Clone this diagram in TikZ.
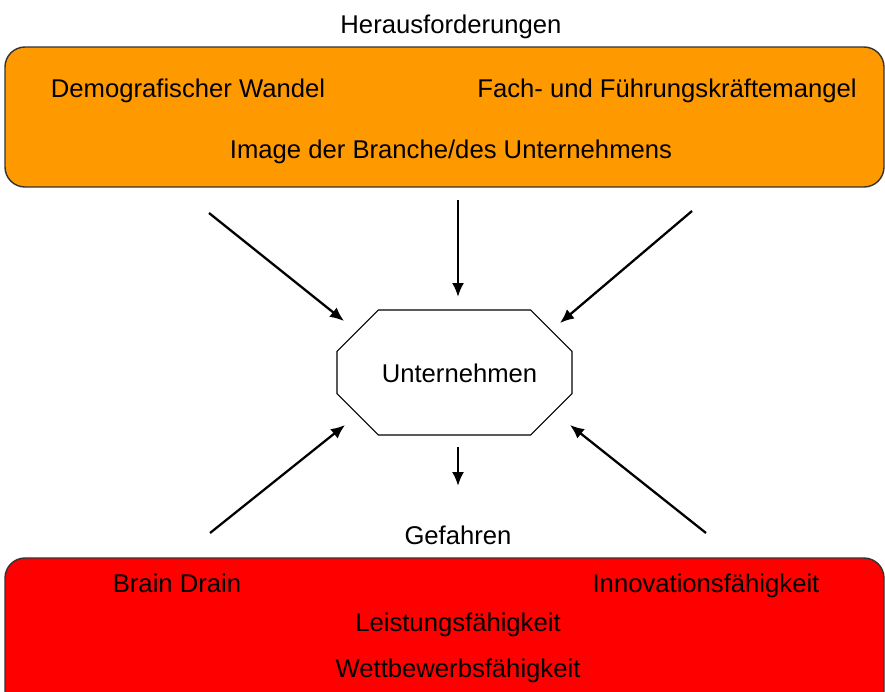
\documentclass[tikz,border=0pt]{standalone}
\usepackage{fontspec}
\setmainfont{Liberation Sans}
\usetikzlibrary{arrows.meta,shapes.misc}
\definecolor{orangebox}{RGB}{255,153,0}
\definecolor{redbox}{RGB}{255,0,0}
\begin{document}
\begin{tikzpicture} [font=\fontsize{14.6}{17}\selectfont,
  every node/.style={text height=12.5pt,text depth=1.5pt},
  box/.style={draw=black!80,line width=0.8pt,rounded corners=0.4cm},
  pfeil/.style={-{Latex[length=2.8mm,width=2.4mm]},line width=1.3pt}]
\clip (0,0) rectangle (17.7,-13.82) ;
% Herausforderungen
\node (her) at (9.02,-0.48) {Herausforderungen} ;
\draw[box,fill=orangebox] (0.1,-0.94) rectangle (17.68,-3.74) ;
\node (demo) at (3.76,-1.76) {Demografischer Wandel} ;
\node (fach) at (13.34,-1.76) {Fach- und Führungskräftemangel} ;
\node (image) at (9.02,-2.98) {Image der Branche/des Unternehmens} ;
% Unternehmen
\node [draw,line width=0.6pt,chamfered rectangle,chamfered rectangle xsep=0.58cm,
  chamfered rectangle ysep=0.58cm,minimum width=4.7cm,minimum height=2.5cm,
  inner sep=0pt] (firm) at (9.09,-7.45) {\hspace{0.2cm}Unternehmen} ;
\coordinate (o1) at (4.18,-4.26) ; \coordinate (o1e) at (6.88,-6.42) ;
\coordinate (o2) at (9.16,-4.0) ;  \coordinate (o2e) at (9.16,-5.94) ;
\coordinate (o3) at (13.84,-4.22) ; \coordinate (o3e) at (11.2,-6.46) ;
\coordinate (u1) at (4.2,-10.66) ; \coordinate (u1e) at (6.9,-8.5) ;
\coordinate (u3) at (14.12,-10.66) ; \coordinate (u3e) at (11.4,-8.5) ;
\coordinate (m1) at (9.16,-8.94) ; \coordinate (m1e) at (9.16,-9.72) ;
\draw[pfeil] (o1) -- (o1e) ;
\draw[pfeil] (o2) -- (o2e) ;
\draw[pfeil] (o3) -- (o3e) ;
\draw[pfeil] (u1) -- (u1e) ;
\draw[pfeil] (u3) -- (u3e) ;
\draw[pfeil] (m1) -- (m1e) ;
% Gefahren
\node (gef) at (9.16,-10.7) {Gefahren} ;
\draw[box,fill=redbox] (0.1,-11.16) rectangle (17.68,-14.3) ;
\node (brain) at (3.54,-11.66) {Brain Drain} ;
\node (inno) at (14.12,-11.66) {Innovationsfähigkeit} ;
\node (leist) at (9.16,-12.44) {Leistungsfähigkeit} ;
\node (wett) at (9.16,-13.36) {Wettbewerbsfähigkeit} ;
\end{tikzpicture}
\end{document}
